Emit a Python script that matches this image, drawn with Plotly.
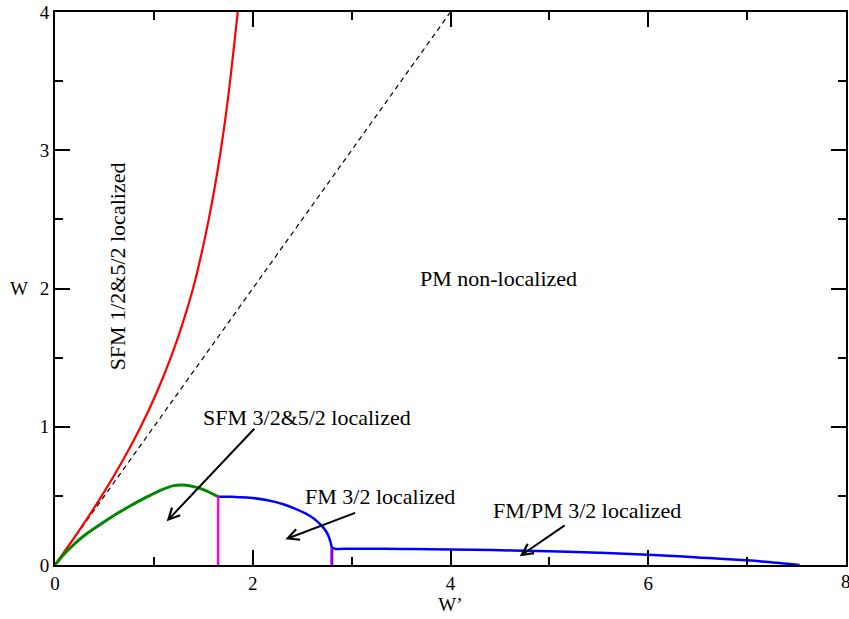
import plotly.graph_objects as go

# ---- data ----
red_y = [0, 0.25, 0.5, 0.75, 1.0, 1.25, 1.5, 1.75, 2.0, 2.25, 2.5, 2.75, 3.0, 3.25, 3.5, 3.75, 4.0]
red_x = [0, 0.245, 0.473, 0.681, 0.867, 1.030, 1.171, 1.292, 1.396, 1.481, 1.555, 1.620,
         1.677, 1.727, 1.771, 1.810, 1.848]

diag_x = [0, 4]
diag_y = [0, 4]

green_x = [0, 0.10, 0.20, 0.30, 0.45, 0.60, 0.75, 0.90, 1.05, 1.20, 1.30, 1.40, 1.50, 1.65]
green_y = [0, 0.085, 0.155, 0.215, 0.29, 0.36, 0.423, 0.482, 0.535, 0.574, 0.578, 0.567, 0.545, 0.494]

blue1_x = [1.65, 1.80, 1.97, 2.15, 2.31, 2.45, 2.58, 2.66, 2.72, 2.76, 2.785, 2.80]
blue1_y = [0.494, 0.493, 0.487, 0.468, 0.439, 0.40, 0.354, 0.31, 0.265, 0.22, 0.17, 0.125]

blue2_x = [2.80, 2.83, 3.0, 3.5, 4.0, 4.5, 5.0, 5.5, 6.0, 6.5, 7.0, 7.3, 7.53]
blue2_y = [0.125, 0.118, 0.118, 0.116, 0.113, 0.107, 0.100, 0.089, 0.075, 0.055, 0.034, 0.016, 0.0]

mag_x = [1.65, 1.65]
mag_y = [0, 0.494]

purp_x = [2.80, 2.80]
purp_y = [0, 0.125]

x_ticks = [0, 2, 4, 6, 8]
x_ticklabels = ["0", "2", "4", "6", ""]   # "8" drawn separately (clipped at page edge)
y_ticks = [0, 1, 2, 3, 4]

labels = [
    ("SFM 1/2&5/2 localized", 0.627, 2.16, -90),
    ("PM non-localized", 4.49, 2.07, 0),
    ("SFM 3/2&5/2 localized", 2.553, 1.068, 0),
    ("FM 3/2 localized", 3.286, 0.497, 0),
    ("FM/PM 3/2 localized", 5.385, 0.395, 0),
]
# (head_x, head_y, tail_x, tail_y)
arrows = [
    (1.13, 0.316, 2.03, 0.996),
    (2.33, 0.186, 3.05, 0.381),
    (4.70, 0.063, 5.17, 0.294),
]

FONT = "Liberation Serif"

fig = go.Figure()
fig.add_trace(go.Scatter(x=diag_x, y=diag_y, mode="lines",
                         line=dict(color="black", width=1.2, dash="5px,4px")))
fig.add_trace(go.Scatter(x=red_x, y=red_y, mode="lines", line_shape="spline",
                         line=dict(color="#ff0000", width=2.2)))
fig.add_trace(go.Scatter(x=green_x, y=green_y, mode="lines", line_shape="spline",
                         line=dict(color="#008800", width=3)))
fig.add_trace(go.Scatter(x=blue1_x, y=blue1_y, mode="lines", line_shape="spline",
                         line=dict(color="#0000ff", width=2.5)))
fig.add_trace(go.Scatter(x=blue2_x, y=blue2_y, mode="lines", line_shape="spline",
                         line=dict(color="#0000ff", width=2.5)))
fig.add_trace(go.Scatter(x=mag_x, y=mag_y, mode="lines",
                         line=dict(color="#ff00ff", width=2.5)))
fig.add_trace(go.Scatter(x=purp_x, y=purp_y, mode="lines",
                         line=dict(color="#9400d3", width=3)))
# invisible trace for the mirrored (top/right) axes
fig.add_trace(go.Scatter(x=[0, 8], y=[0, 4], xaxis="x2", yaxis="y2", mode="lines",
                         line=dict(width=0), hoverinfo="skip", showlegend=False,
                         opacity=0))

for text, x, y, ang in labels:
    fig.add_annotation(x=x, y=y, text=text, showarrow=False, textangle=ang,
                       font=dict(family=FONT, size=22, color="black"),
                       xanchor="center", yanchor="middle")

for hx, hy, tx, ty in arrows:
    fig.add_annotation(x=hx, y=hy, ax=tx, ay=ty, xref="x", yref="y",
                       axref="x", ayref="y", text="", showarrow=True,
                       arrowhead=5, arrowsize=1.1, arrowwidth=2, arrowcolor="black")

# y-axis title (upright)
fig.add_annotation(x=-0.046, y=0.5, xref="paper", yref="paper", text="W",
                   showarrow=False, font=dict(family=FONT, size=19, color="black"),
                   xanchor="center", yanchor="middle")
# last x tick label, partly cut by the page edge as in the reference
fig.add_annotation(x=8, y=0, xref="x", yref="y", text="8", showarrow=False,
                   xanchor="center", yanchor="top", yshift=-4,
                   font=dict(family=FONT, size=19, color="black"))

axis_common = dict(
    showline=True, linecolor="black", linewidth=2, automargin=False,
    ticks="inside", ticklen=15, tickwidth=1.5, tickcolor="black",
    showgrid=False, zeroline=False,
    tickfont=dict(family=FONT, size=19, color="black"),
)
minor_x = dict(dtick=1, tick0=0, ticks="inside", ticklen=8, tickwidth=1.5,
               tickcolor="black", showgrid=False)
minor_y = dict(dtick=0.5, tick0=0, ticks="inside", ticklen=8, tickwidth=1.5,
               tickcolor="black", showgrid=False)

fig.update_layout(
    width=849, height=619,
    margin=dict(l=55, r=3, t=12, b=54),
    plot_bgcolor="white", paper_bgcolor="white",
    showlegend=False,
    xaxis=dict(range=[0, 8], tickvals=x_ticks, ticktext=x_ticklabels,
               minor=minor_x,
               title=dict(text="W’", font=dict(family=FONT, size=19, color="black"), standoff=4),
               **axis_common),
    yaxis=dict(range=[0, 4], tickvals=y_ticks, ticktext=[str(v) for v in y_ticks],
               minor=minor_y, **axis_common),
    xaxis2=dict(range=[0, 8], overlaying="x", side="top", anchor="y",
                tickvals=x_ticks, showticklabels=False, minor=minor_x, **axis_common),
    yaxis2=dict(range=[0, 4], overlaying="y", side="right", anchor="x",
                tickvals=y_ticks, showticklabels=False, minor=minor_y, **axis_common),
)

fig.write_html("out.html")
